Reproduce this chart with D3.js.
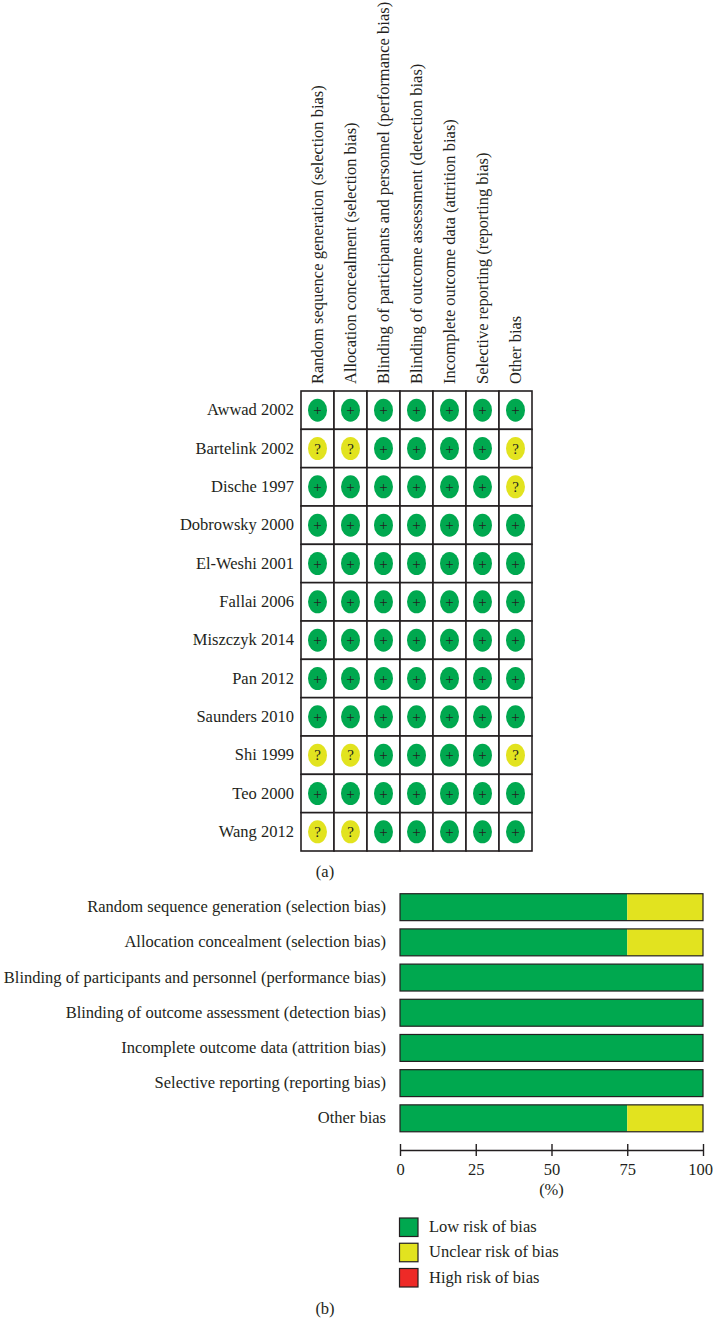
<!DOCTYPE html>
<html>
<head>
<meta charset="utf-8">
<script src="https://cdn.jsdelivr.net/npm/d3@7"></script>
<style>
html, body { margin: 0; padding: 0; background: #fff; overflow: hidden; }
text { font-family: "Liberation Serif", serif; fill: #231f20; }
</style>
</head>
<body>
<div id="chart"></div>
<script>
const domains = [
    'Random sequence generation (selection bias)',
    'Allocation concealment (selection bias)',
    'Blinding of participants and personnel (performance bias)',
    'Blinding of outcome assessment (detection bias)',
    'Incomplete outcome data (attrition bias)',
    'Selective reporting (reporting bias)',
    'Other bias'
];
const studies = ['Awwad 2002', 'Bartelink 2002', 'Dische 1997', 'Dobrowsky 2000', 'El-Weshi 2001', 'Fallai 2006',
    'Miszczyk 2014', 'Pan 2012', 'Saunders 2010', 'Shi 1999', 'Teo 2000', 'Wang 2012'];
const judgements = [
    '+++++++',
    '??++++?',
    '++++++?',
    '+++++++',
    '+++++++',
    '+++++++',
    '+++++++',
    '+++++++',
    '+++++++',
    '??++++?',
    '+++++++',
    '??+++++'
];
const lowRisk = [75, 75, 100, 100, 100, 100, 75];
const unclearRisk = [25, 25, 0, 0, 0, 0, 25];
const highRisk = [0, 0, 0, 0, 0, 0, 0];
const percentTicks = [0, 25, 50, 75, 100];
const legendLabels = ['Low risk of bias', 'Unclear risk of bias', 'High risk of bias'];

const GREEN = '#00a84f', YELLOW = '#e2e31f', RED = '#ee2a27', INK = '#231f20';
const legendColors = [GREEN, YELLOW, RED];
const FONT = 16.5;

const svg = d3.select('#chart').append('svg')
    .attr('width', 713)
    .attr('height', 1333)
    .style('display', 'block');

// (a) summary grid
const gx = d3.scaleBand().domain(domains).range([301, 532]);
const gy = d3.scaleBand().domain(studies).range([391, 851]);

svg.append('g').selectAll('text')
    .data(domains)
    .join('text')
    .attr('transform', d => `translate(${gx(d) + gx.bandwidth() / 2 + 5},384) rotate(-90)`)
    .attr('font-size', FONT)
    .text(d => d);

svg.append('g').selectAll('text')
    .data(studies)
    .join('text')
    .attr('x', 294)
    .attr('y', d => gy(d) + gy.bandwidth() / 2 + 5)
    .attr('text-anchor', 'end')
    .attr('font-size', FONT)
    .text(d => d);

const cells = studies.flatMap((s, i) => domains.map((d, j) => ({ study: s, domain: d, mark: judgements[i][j] })));

svg.append('g').selectAll('rect')
    .data(cells)
    .join('rect')
    .attr('x', d => gx(d.domain))
    .attr('y', d => gy(d.study))
    .attr('width', gx.bandwidth())
    .attr('height', gy.bandwidth())
    .attr('fill', '#fff')
    .attr('stroke', INK)
    .attr('stroke-width', 1.6);

svg.append('g').selectAll('ellipse')
    .data(cells)
    .join('ellipse')
    .attr('cx', d => gx(d.domain) + gx.bandwidth() / 2)
    .attr('cy', d => gy(d.study) + gy.bandwidth() / 2)
    .attr('rx', 9.5)
    .attr('ry', 11.5)
    .attr('fill', d => d.mark === '+' ? GREEN : YELLOW);

svg.append('g').selectAll('text')
    .data(cells)
    .join('text')
    .attr('x', d => gx(d.domain) + gx.bandwidth() / 2)
    .attr('y', d => gy(d.study) + gy.bandwidth() / 2 + 5)
    .attr('text-anchor', 'middle')
    .attr('font-size', 15)
    .text(d => d.mark);

svg.append('text')
    .attr('x', 325).attr('y', 877)
    .attr('text-anchor', 'middle')
    .attr('font-size', FONT)
    .text('(a)');

// (b) stacked bars
const bx = d3.scaleLinear().domain([0, 100]).range([400, 703]);
const by = d3.scaleBand().domain(domains).range([889.5, 1136]).paddingInner(0.235).paddingOuter(0.12);

svg.append('g').selectAll('text')
    .data(domains)
    .join('text')
    .attr('x', 386)
    .attr('y', d => by(d) + by.bandwidth() / 2 + 5)
    .attr('text-anchor', 'end')
    .attr('font-size', FONT)
    .text(d => d);

const stack = d3.stack().keys(['low', 'unclear', 'high'])(
    domains.map((d, i) => ({ domain: d, low: lowRisk[i], unclear: unclearRisk[i], high: highRisk[i] }))
);

svg.append('g').selectAll('g')
    .data(stack)
    .join('g')
    .attr('fill', (d, i) => legendColors[i])
    .selectAll('rect')
    .data(d => d.filter(v => v[1] > v[0]))
    .join('rect')
    .attr('x', d => bx(d[0]))
    .attr('y', d => by(d.data.domain))
    .attr('width', d => bx(d[1]) - bx(d[0]))
    .attr('height', by.bandwidth());

svg.append('g').selectAll('rect')
    .data(domains)
    .join('rect')
    .attr('x', bx(0))
    .attr('y', d => by(d))
    .attr('width', bx(100) - bx(0))
    .attr('height', by.bandwidth())
    .attr('fill', 'none')
    .attr('stroke', INK)
    .attr('stroke-width', 1.2);

const axis = svg.append('g')
    .attr('transform', 'translate(0,1150)')
    .call(d3.axisBottom(bx).tickValues(percentTicks).tickSize(6).tickSizeOuter(0).tickPadding(7));
axis.select('.domain').attr('stroke', INK).attr('stroke-width', 1.4);
axis.selectAll('.tick line').attr('y1', -6).attr('stroke', INK).attr('stroke-width', 1.4);
axis.selectAll('.tick text').attr('font-size', FONT).attr('font-family', '"Liberation Serif", serif').attr('fill', INK);
// the last label sits at the page edge, pull it in so it is not clipped
axis.selectAll('.tick text').filter(d => d === 100).attr('dx', -3);

svg.append('text')
    .attr('x', bx(50)).attr('y', 1195)
    .attr('text-anchor', 'middle')
    .attr('font-size', FONT)
    .text('(%)');

// legend
const ly = d3.scalePoint().domain(legendLabels).range([1218, 1268.5]);

svg.append('g').selectAll('rect')
    .data(legendLabels)
    .join('rect')
    .attr('x', 399.5)
    .attr('y', d => ly(d))
    .attr('width', 18.5)
    .attr('height', 18.5)
    .attr('fill', (d, i) => legendColors[i])
    .attr('stroke', INK)
    .attr('stroke-width', 1.2);

svg.append('g').selectAll('text')
    .data(legendLabels)
    .join('text')
    .attr('x', 429)
    .attr('y', d => ly(d) + 14)
    .attr('font-size', FONT)
    .text(d => d);

svg.append('text')
    .attr('x', 325).attr('y', 1314)
    .attr('text-anchor', 'middle')
    .attr('font-size', FONT)
    .text('(b)');
</script>
</body>
</html>
